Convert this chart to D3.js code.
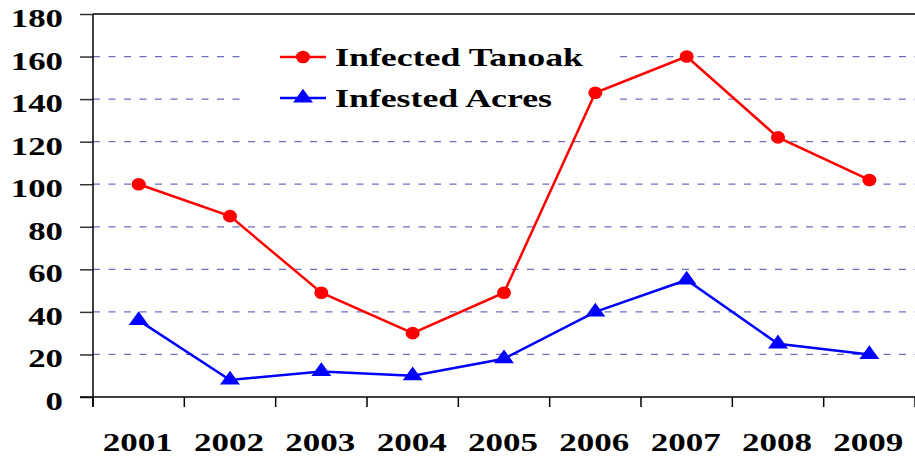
<!DOCTYPE html>
<html><head><meta charset="utf-8">
<script src="https://cdn.jsdelivr.net/npm/d3@7"></script>
<style>body{margin:0;background:#fff}svg{display:block}text{font-family:"Liberation Serif","Times New Roman",serif;font-weight:bold;fill:#000}</style>
</head><body><svg id="c" width="915" height="459"></svg>
<script>
const years = ["2001","2002","2003","2004","2005","2006","2007","2008","2009"];
const tanoak = [100, 85, 49, 30, 49, 143, 160, 122, 102];
const acres = [36, 8, 12, 10, 18, 40, 55, 25, 20];
const yTicks = [0,20,40,60,80,100,120,140,160,180];
const seriesNames = ["Infected Tanoak","Infested Acres"];

const svg = d3.select("#c");
const L = 93, R = 915, T = 14, B = 397;
const x = d3.scaleBand().domain(years).range([L, R]);
const y = d3.scaleLinear().domain([0,180]).range([B, T]);

// gridlines
svg.append("g").selectAll("line").data(yTicks.filter(d=>d>0 && d<180)).join("line")
  .attr("x1", L).attr("x2", R).attr("y1", d=>y(d)).attr("y2", d=>y(d))
  .attr("stroke", "#6e6ec0").attr("stroke-width", 1.2).attr("stroke-dasharray", "7,8.5");

// top border
svg.append("line").attr("x1", L).attr("x2", R).attr("y1", T).attr("y2", T).attr("stroke","#000").attr("stroke-width",1.5);

// y axis
const ya = svg.append("g").attr("transform", `translate(${L},0)`)
  .call(d3.axisLeft(y).tickValues(yTicks).tickSize(13).tickFormat(""));
ya.select(".domain").remove();
ya.selectAll(".tick line").attr("stroke","#333").attr("stroke-width",1.5);
svg.append("line").attr("x1",L).attr("x2",L).attr("y1",T).attr("y2",B+10).attr("stroke","#000").attr("stroke-width",1.5);
svg.append("g").selectAll("text").data(yTicks).join("text")
  .attr("x", 63).attr("y", d=>y(d)+13).attr("text-anchor","end")
  .attr("font-size", 26)
  .attr("textLength", d=>String(d).length*17.4).attr("lengthAdjust","spacingAndGlyphs")
  .text(d=>d);

// x axis
svg.append("line").attr("x1",L-13).attr("x2",R).attr("y1",B).attr("y2",B).attr("stroke","#000").attr("stroke-width",1.5);
const bounds = years.map(d=>x(d)).concat([R]);
svg.append("g").selectAll("line").data(bounds).join("line")
  .attr("x1",d=>d).attr("x2",d=>d).attr("y1",B).attr("y2",B+10).attr("stroke","#000").attr("stroke-width",1.5);
svg.append("g").selectAll("text").data(years).join("text")
  .attr("x", d=>x(d)+x.bandwidth()/2-1).attr("y", 451).attr("text-anchor","middle")
  .attr("font-size", 26).attr("textLength", 70).attr("lengthAdjust","spacingAndGlyphs")
  .text(d=>d);

// legend background
svg.append("rect").attr("x",243).attr("y",36).attr("width",370).attr("height",84).attr("fill","#fff");

const line = d3.line().x((d,i)=>x(years[i])+x.bandwidth()/2).y(d=>y(d));
const tri = d3.symbol().type(d3.symbolTriangle).size(110);

function drawSeries(vals, color, marker){
  svg.append("path").datum(vals).attr("d", line).attr("fill","none").attr("stroke",color).attr("stroke-width",2.5);
  const g = svg.append("g");
  if (marker==="circle") {
    g.selectAll("ellipse").data(vals).join("ellipse")
      .attr("cx",(d,i)=>x(years[i])+x.bandwidth()/2).attr("cy",d=>y(d)).attr("rx",7).attr("ry",6.3).attr("fill",color);
  } else {
    g.selectAll("path").data(vals).join("path").attr("d", tri)
      .attr("transform",(d,i)=>`translate(${x(years[i])+x.bandwidth()/2},${y(d)}) scale(1.25,1)`).attr("fill",color);
  }
}
drawSeries(tanoak, "#ff0000", "circle");
drawSeries(acres, "#0000ff", "triangle");

// legend
const leg = [{name:seriesNames[0], color:"#ff0000", m:"circle", ly:57, w:248},{name:seriesNames[1], color:"#0000ff", m:"tri", ly:98, w:217}];
leg.forEach(l=>{
  svg.append("line").attr("x1",280).attr("x2",326).attr("y1",l.ly).attr("y2",l.ly).attr("stroke",l.color).attr("stroke-width",2.5);
  if (l.m==="circle") svg.append("ellipse").attr("cx",303).attr("cy",l.ly).attr("rx",7).attr("ry",6.3).attr("fill",l.color);
  else svg.append("path").attr("d",tri).attr("transform",`translate(303,${l.ly}) scale(1.25,1)`).attr("fill",l.color);
  svg.append("text").attr("x",335).attr("y",l.ly+9).attr("font-size",26)
    .attr("textLength",l.w).attr("lengthAdjust","spacingAndGlyphs").text(l.name);
});
</script></body></html>
